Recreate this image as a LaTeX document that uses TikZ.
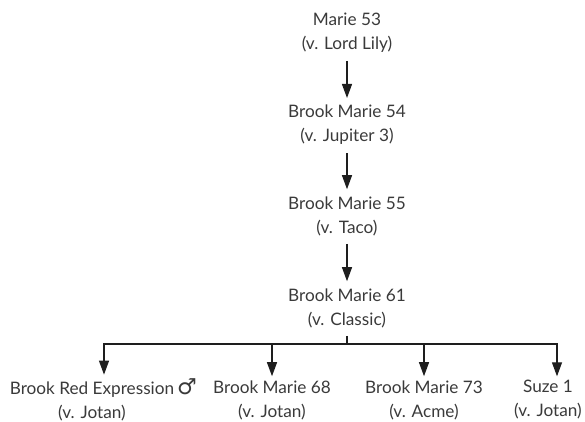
\documentclass[tikz,border=0pt]{standalone}
\usepackage{fontspec}
\setmainfont{Lato}
\newfontfamily\symfont{DejaVu Sans}
\usetikzlibrary{arrows.meta}
\definecolor{txt}{HTML}{3A3A3A}
\definecolor{ln}{HTML}{1E1E1E}
\begin{document}
\begin{tikzpicture}[x=1bp,y=-1bp,
  lbl/.style={align=center,inner sep=0pt,text=txt,font=\fontsize{17.2bp}{24bp}\selectfont},
  arr/.style={draw=ln,line width=1.2bp,-{Triangle[width=10bp,length=14bp]}},
  ln/.style={draw=ln,line width=1.2bp}]
\useasboundingbox (0,0) rectangle (585,421);
\node[lbl] (n53) at (347,33) {Marie 53\\(v. Lord Lily)};
\node[lbl] (n54) at (347,125) {Brook Marie 54\\(v. Jupiter 3)};
\node[lbl] (n55) at (347,216) {Brook Marie 55\\(v. Taco)};
\node[lbl] (n61) at (347,308) {Brook Marie 61\\(v. Classic)};
\node[lbl] (c1) at (92,400) {Brook Red Expression\rlap{\,{\symfont\fontsize{22bp}{24bp}\selectfont ♂}}\\(v. Jotan)};
\node[lbl] (c2) at (272,400) {Brook Marie 68\\(v. Jotan)};
\node[lbl] (c3) at (424,400) {Brook Marie 73\\(v. Acme)};
\node[lbl] (c4) at (548,400) {Suze 1\\(v. Jotan)};
\draw[arr] ([yshift=-8bp]n53.south) -- ([yshift=7bp]n54.north);
\draw[arr] ([yshift=-8bp]n54.south) -- ([yshift=7bp]n55.north);
\draw[arr] ([yshift=-8bp]n55.south) -- ([yshift=7bp]n61.north);
\coordinate (j) at (347,344);
\draw[ln] ([yshift=-8bp]n61.south) -- (j);
\draw[arr] (j) -| ([xshift=12bp,yshift=4bp]c1.north);
\draw[arr] (j) -| ([yshift=4bp]c2.north);
\draw[arr] (j) -| ([yshift=4bp]c3.north);
\draw[arr] (j) -| ([xshift=9bp,yshift=4bp]c4.north);
\end{tikzpicture}
\end{document}
